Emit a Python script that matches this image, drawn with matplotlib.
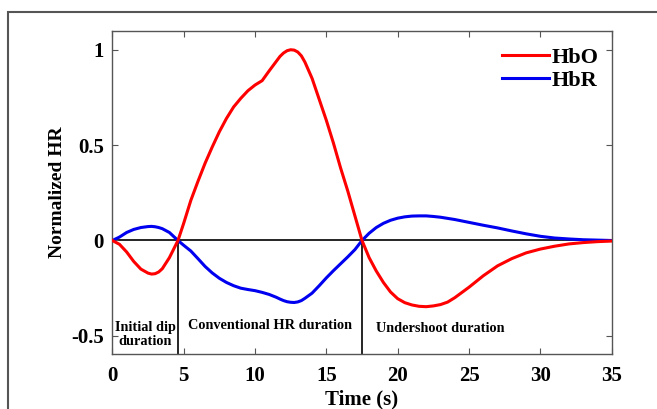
import matplotlib
matplotlib.use("Agg")
import matplotlib.pyplot as plt
from matplotlib.patches import Rectangle

# values
time_s = [0, 0.5, 1, 1.5, 2, 2.5, 2.75, 3, 3.25, 3.5, 4, 4.6, 5, 5.5, 6, 6.5, 7, 7.5,
          8, 8.5, 9, 9.5, 10, 10.5, 11, 11.5, 11.75, 12, 12.25, 12.5, 12.75, 13,
          13.25, 13.5, 14, 14.5, 15, 15.5, 16, 16.5, 17, 17.5, 18, 18.5, 19, 19.5,
          20, 20.5, 21, 21.5, 22, 22.5, 23, 23.5, 24, 25, 26, 27, 28, 29, 30, 31,
          32, 33, 34, 35]
hbo = [0, -0.02, -0.06, -0.11, -0.15, -0.171, -0.176, -0.174, -0.165, -0.148,
       -0.09, 0, 0.09, 0.21, 0.31, 0.405, 0.49, 0.57, 0.64, 0.70, 0.745, 0.785,
       0.815, 0.838, 0.89, 0.94, 0.965, 0.983, 0.995, 1.0, 0.998, 0.988, 0.968,
       0.935, 0.85, 0.74, 0.63, 0.51, 0.38, 0.26, 0.13, 0, -0.09, -0.16, -0.22,
       -0.27, -0.305, -0.326, -0.338, -0.345, -0.347, -0.343, -0.336, -0.323,
       -0.30, -0.245, -0.185, -0.133, -0.095, -0.065, -0.045, -0.03, -0.018,
       -0.011, -0.006, -0.003]
hbr = [0, 0.018, 0.042, 0.058, 0.068, 0.073, 0.074, 0.072, 0.068, 0.062, 0.042, 0,
       -0.025, -0.055, -0.095, -0.136, -0.17, -0.198, -0.22, -0.237, -0.25, -0.257,
       -0.263, -0.272, -0.283, -0.298, -0.307, -0.315, -0.321, -0.324, -0.325,
       -0.322, -0.315, -0.303, -0.276, -0.237, -0.196, -0.158, -0.122, -0.086,
       -0.048, 0, 0.038, 0.068, 0.09, 0.106, 0.117, 0.124, 0.128, 0.129, 0.129,
       0.126, 0.122, 0.116, 0.11, 0.095, 0.08, 0.066, 0.05, 0.035, 0.022, 0.013,
       0.008, 0.004, 0.002, 0]
phase_bounds = [4.6, 17.5]
phase_labels = ["Initial dip\nduration", "Conventional HR duration", "Undershoot duration"]
phase_label_x = [2.3, 11.05, 22.95]
phase_label_y = [-0.492, -0.447, -0.46]

plt.rcParams["font.family"] = ["Liberation Serif", "DejaVu Serif"]
plt.rcParams["font.weight"] = "bold"

fig = plt.figure(figsize=(6.57, 4.09), dpi=100)
ax = fig.add_axes([0.171, 0.1345, 0.76, 0.7905])

# outer frame of the figure
fig.patches.append(Rectangle((8 / 657, -0.1), 1.2, 0.1 + (409 - 12) / 409,
                             transform=fig.transFigure, fill=False,
                             edgecolor="#555555", linewidth=1.5))

ax.axhline(0, color="black", linewidth=1.2, zorder=1)
for xb in phase_bounds:
    ax.plot([xb, xb], [-0.6, 0], color="black", linewidth=1.2, zorder=1)

ax.plot(time_s, hbo, color="#ff0000", linewidth=2.2, label="HbO", zorder=3,
        solid_joinstyle="round")
ax.plot(time_s, hbr, color="#0000f0", linewidth=2.2, label="HbR", zorder=2,
        solid_joinstyle="round")

for lbl, lx, ly in zip(phase_labels, phase_label_x, phase_label_y):
    ax.text(lx, ly, lbl, ha="center", va="center", fontsize=10.3,
            fontweight="bold", linespacing=1.15)

ax.set_xlim(0, 35)
ax.set_ylim(-0.595, 1.1)
ax.set_xticks([0, 5, 10, 15, 20, 25, 30, 35])
ax.set_yticks([-0.5, 0, 0.5, 1])
ax.set_yticklabels(["-0.5", "0", "0.5", "1"])
ax.tick_params(direction="in", top=True, right=True, length=4, width=0.8,
               labelsize=15, color="#555555")
ax.tick_params(axis="x", pad=9)
ax.tick_params(axis="y", pad=6)
for sp in ax.spines.values():
    sp.set_color("#555555")
    sp.set_linewidth(1.0)

ax.set_xlabel("Time (s)", fontsize=15, fontweight="bold", labelpad=2)
ax.set_ylabel("Normalized HR", fontsize=14, fontweight="bold", labelpad=4)

ax.legend(loc="upper right", frameon=False, fontsize=16, handlelength=2.1,
          handletextpad=0.1, borderaxespad=0.2, labelspacing=0.1,
          bbox_to_anchor=(1.0, 0.99))

fig.savefig("out.png", dpi=100)
